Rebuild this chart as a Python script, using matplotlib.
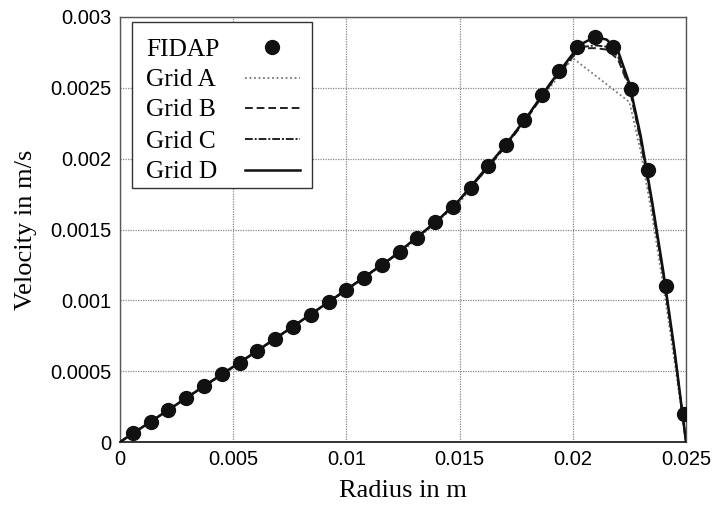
import matplotlib
matplotlib.use("Agg")
import matplotlib.pyplot as plt
from matplotlib.lines import Line2D
from matplotlib.patches import Rectangle

# FIDAP reference solution (markers)
fidap_r = [0.00057, 0.00136, 0.00214, 0.00293, 0.00371, 0.00450, 0.00528, 0.00607,
           0.00685, 0.00764, 0.00842, 0.00921, 0.00999, 0.01078, 0.01156, 0.01235,
           0.01313, 0.01392, 0.01470, 0.01549, 0.01627, 0.01706, 0.01784, 0.01863,
           0.01941, 0.02020, 0.02098, 0.02177, 0.02255, 0.02334, 0.02412, 0.02491]
fidap_v = [0.000064, 0.000142, 0.000226, 0.000311, 0.000396, 0.000481, 0.000559, 0.000644,
           0.000729, 0.000814, 0.000899, 0.000991, 0.001075, 0.00116, 0.00125, 0.00134,
           0.00144, 0.00155, 0.00166, 0.00179, 0.00195, 0.00210, 0.00227, 0.00245,
           0.00262, 0.00279, 0.00286, 0.00279, 0.00249, 0.00192, 0.00110, 0.00020]

# Grid A (coarse)
grid_a_r = [0, 0.0025, 0.005, 0.0075, 0.010, 0.0125, 0.015, 0.0175, 0.020, 0.0225,
            0.023, 0.0235, 0.024, 0.0245, 0.025]
grid_a_v = [0, 0.000262, 0.000525, 0.000795, 0.00107, 0.00135, 0.00169, 0.00220, 0.00271, 0.00240,
            0.00205, 0.00160, 0.00110, 0.00056, 0]

# Grid B / Grid C
grid_b_r = [0, 0.002, 0.004, 0.006, 0.008, 0.010, 0.012, 0.014, 0.015, 0.016, 0.017, 0.018,
            0.019, 0.020, 0.0205, 0.021, 0.0215, 0.022, 0.0225, 0.023, 0.0235, 0.024, 0.0245, 0.025]
grid_b_v = [0, 0.000212, 0.000425, 0.000637, 0.000855, 0.001075, 0.00130, 0.00156, 0.00171, 0.00189,
            0.00208, 0.00229, 0.00252, 0.00272, 0.00278, 0.00278, 0.00277, 0.00270, 0.00250, 0.00212,
            0.00167, 0.00117, 0.00062, 0]
grid_c_r = grid_b_r
grid_c_v = [0, 0.000212, 0.000425, 0.000637, 0.000855, 0.001075, 0.00130, 0.00156, 0.00171, 0.00189,
            0.00209, 0.00230, 0.00253, 0.00273, 0.00279, 0.00280, 0.00279, 0.00272, 0.00251, 0.00214,
            0.00169, 0.00118, 0.00063, 0]

# Grid D (finest)
grid_d_r = grid_b_r
grid_d_v = [0, 0.000212, 0.000425, 0.000637, 0.000855, 0.001075, 0.00130, 0.00156, 0.00171, 0.00190,
            0.00209, 0.00230, 0.00253, 0.00274, 0.00282, 0.00286, 0.00284, 0.00276, 0.00253, 0.00216,
            0.00170, 0.00120, 0.00064, 0]

x_ticks = [0, 0.005, 0.01, 0.015, 0.02, 0.025]
x_labels = ["0", "0.005", "0.01", "0.015", "0.02", "0.025"]
y_ticks = [0, 0.0005, 0.001, 0.0015, 0.002, 0.0025, 0.003]
y_labels = ["0", "0.0005", "0.001", "0.0015", "0.002", "0.0025", "0.003"]
legend_labels = ["FIDAP", "Grid A", "Grid B", "Grid C", "Grid D"]

serif = ["Liberation Serif", "DejaVu Serif"]
sans = ["Liberation Sans", "DejaVu Sans"]

style_a = dict(color="#777777", lw=1.3, ls=(0, (1, 1.5)))
style_b = dict(color="#222222", lw=1.4, ls=(0, (4, 2)))
style_c = dict(color="#222222", lw=1.4, ls=(0, (4, 1, 1, 1)))
style_d = dict(color="#111111", lw=1.8, ls="-")
style_f = dict(ls="none", marker="o", ms=10, color="#111111")

W, H = 717, 509
fig = plt.figure(figsize=(W / 100, H / 100), dpi=100)
ax = fig.add_axes([120 / W, 1 - 442 / H, 566 / W, 425 / H])

ax.plot(grid_a_r, grid_a_v, zorder=3, **style_a)
ax.plot(grid_b_r, grid_b_v, zorder=3, **style_b)
ax.plot(grid_c_r, grid_c_v, zorder=3, **style_c)
ax.plot(grid_d_r, grid_d_v, zorder=4, **style_d)
ax.plot(fidap_r, fidap_v, zorder=5, **style_f)

ax.set_xlim(0, 0.025)
ax.set_ylim(0, 0.003)
ax.set_xticks(x_ticks)
ax.set_xticklabels(x_labels, family=sans, fontsize=14.5)
ax.set_yticks(y_ticks)
ax.set_yticklabels(y_labels, family=sans, fontsize=14.5)
ax.tick_params(length=0, pad=6)
ax.grid(True, color="#888888", ls=(0, (1, 1)), lw=0.9)
ax.set_axisbelow(True)
for side in ["top", "right", "left"]:
    ax.spines[side].set_color("#555555")
    ax.spines[side].set_linewidth(1.0)
ax.spines["bottom"].set_color("#333333")
ax.spines["bottom"].set_linewidth(1.4)

ax.set_xlabel("Radius in m", family=serif, fontsize=19, labelpad=8)
ax.set_ylabel("Velocity in m/s", family=serif, fontsize=19, labelpad=10)

# legend drawn by hand: text left-aligned, samples in a column on the right
def fx(px):
    return px / W


def fy(py):
    return 1 - py / H


fig.add_artist(Rectangle((fx(132), fy(188)), fx(312) - fx(132), fy(22) - fy(188),
                         transform=fig.transFigure, facecolor="white",
                         edgecolor="#333333", lw=1.0, zorder=10))
row_y = [47, 78, 108, 139, 170]
styles = [style_f, style_a, style_b, style_c, style_d]
for lab, yy, st in zip(legend_labels, row_y, styles):
    fig.text(fx(146), fy(yy), lab, family=serif, fontsize=18.3, ha="left",
             va="center_baseline", zorder=11)
    if st is style_f:
        fig.add_artist(Line2D([fx(272)], [fy(yy)], transform=fig.transFigure, zorder=11, **st))
    else:
        fig.add_artist(Line2D([fx(245), fx(300)], [fy(yy), fy(yy)],
                              transform=fig.transFigure, zorder=11, **st))

fig.savefig("out.png", dpi=100, facecolor="white")
